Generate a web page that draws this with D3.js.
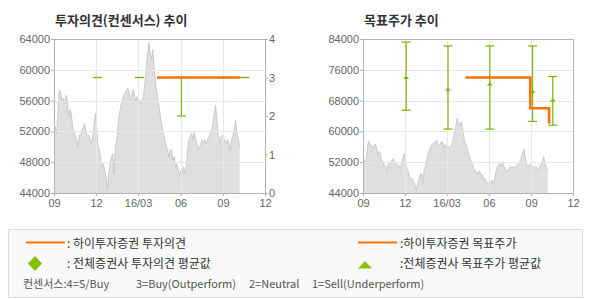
<!DOCTYPE html>
<html>
<head>
<meta charset="utf-8">
<script src="https://cdn.jsdelivr.net/npm/d3@7"></script>
<style>
  body { margin: 0; background: #fff; }
  svg { display: block; }
  .ax text { font-family: "Liberation Sans", Arial, sans-serif; font-size: 11px; fill: #666; }
  .title { font-family: "Noto Sans CJK KR", sans-serif; font-size: 13px; font-weight: bold; fill: #333; }
  .lg { font-family: "Noto Sans CJK KR", sans-serif; font-size: 12px; fill: #333; }
  .lg2 { font-family: "Noto Sans CJK KR", sans-serif; font-size: 11px; fill: #555; white-space: pre; }
</style>
</head>
<body>
<div id="chart"></div>
<script>
// stock price, sampled evenly between the two dates
const priceStart = '2015-09-01';
const priceEnd = '2016-10-07';
const priceValues = [
  52390, 52600, 51700, 54800, 57400, 57000, 56100, 56300, 55650, 56700,
  56100, 53900, 54800, 54300, 52400, 52200, 51300, 50900, 50000, 51500,
  51500, 52200, 52600, 53000, 51950, 51300, 51500, 51100, 50400, 51300,
  53000, 54300, 52600, 50000, 49800, 48250, 47400, 47800, 46950, 46100,
  44550, 46500, 47800, 48700, 49100, 46500, 50000, 50900, 53000, 54300,
  55200, 56100, 56500, 57000, 57200, 57600, 57400, 56100, 56500, 57400,
  57000, 55900, 56500, 55650, 56100, 55650, 56100, 56500, 58300, 60000,
  61750, 63500, 62200, 61300, 62600, 60400, 58300, 57000, 56100, 54800,
  53500, 52600, 51700, 50900, 50000, 49600, 48700, 49600, 49600, 48250,
  48700, 47400, 47800, 46950, 46100, 46950, 46500, 47400, 46500, 47400,
  49600, 50900, 51300, 51700, 50900, 51950, 50900, 50400, 49600, 50000,
  50400, 50900, 50400, 50900, 50400, 50900, 51300, 51700, 52200, 53000,
  54300, 55400, 53500, 51700, 50400, 51300, 51500, 51100, 50900, 50400,
  50900, 50400, 49600, 50900, 51500, 52200, 53500, 51700, 50900, 50000
];

const xTickDates = ['2015-09-01', '2015-12-01', '2016-03-01', '2016-06-01', '2016-09-01', '2016-12-01'];
const xTickLabels = ['09', '12', '16/03', '06', '09', '12'];

const priceTicksLeft = [44000, 48000, 52000, 56000, 60000, 64000];
const opinionTicks = [0, 1, 2, 3, 4];
const priceTicksRight = [44000, 52000, 60000, 68000, 76000, 84000];

// all brokers (min / max / average)
const brokerDates = ['2015-12-04', '2016-03-04', '2016-06-03', '2016-09-04', '2016-10-18'];
const opinionMin = [3, 3, 2, 3, 3];
const opinionMax = [3, 3, 3, 3, 3];
const targetMin = [65500, 60600, 60600, 62600, 61600];
const targetMax = [83200, 82200, 82200, 82200, 74250];
const targetAvg = [73900, 70800, 72200, 70300, 68000];

// 하이투자증권
const hiOpinionDates = ['2016-04-11', '2016-10-08'];
const hiOpinionValues = [3, 3];
const hiTargetDates = ['2016-04-11', '2016-08-30', '2016-10-10'];
const hiTargetValues = [74000, 66000, 62000];

const ORANGE = '#ff7200';
const GREEN = '#78b800';
const parse = d3.timeParse('%Y-%m-%d');

const t0 = parse(priceStart).getTime(), t1 = parse(priceEnd).getTime();
const idxToTime = d3.scaleLinear().domain([0, priceValues.length - 1]).range([t0, t1]);
const price = priceValues.map((v, i) => ({ date: new Date(idxToTime(i)), value: v }));

const svg = d3.select('#chart').append('svg')
  .attr('width', 590)
  .attr('height', 300);

function drawPanel(opt) {
  const x = d3.scaleTime()
    .domain([parse(xTickDates[0]), parse(xTickDates[xTickDates.length - 1])])
    .range([opt.x0, opt.x1]);
  const y = d3.scaleLinear()
    .domain(d3.extent(opt.priceTicks))
    .range([opt.y1, opt.y0]);

  const g = svg.append('g');

  // price area
  g.append('path')
    .datum(price)
    .attr('fill', '#dfdfdf')
    .attr('d', d3.area().x(d => x(d.date)).y0(opt.y1).y1(d => y(d.value)));
  g.append('path')
    .datum(price)
    .attr('fill', 'none')
    .attr('stroke', '#c2c2c2')
    .attr('stroke-width', 0.8)
    .attr('d', d3.line().x(d => x(d.date)).y(d => y(d.value)));

  // grid
  const grid = g.append('g').attr('stroke', '#e8e8e8').attr('stroke-width', 1.2);
  xTickDates.slice(1, -1).forEach(d => {
    const px = Math.round(x(parse(d))) + 0.5;
    grid.append('line').attr('x1', px).attr('x2', px).attr('y1', opt.y0).attr('y2', opt.y1);
  });
  opt.priceTicks.slice(1, -1).forEach(v => {
    const py = Math.round(y(v)) + 0.5;
    grid.append('line').attr('x1', opt.x0).attr('x2', opt.x1).attr('y1', py).attr('y2', py);
  });

  // axes
  const xAxis = g.append('g')
    .attr('class', 'ax')
    .attr('transform', `translate(0,${opt.y1})`)
    .call(d3.axisBottom(x)
      .tickValues(xTickDates.map(parse))
      .tickFormat((d, i) => xTickLabels[i])
      .tickSize(3)
      .tickPadding(3));
  const yAxis = g.append('g')
    .attr('class', 'ax')
    .attr('transform', `translate(${opt.x0},0)`)
    .call(d3.axisLeft(y).tickValues(opt.priceTicks).tickFormat(d3.format('d')).tickSize(3).tickPadding(1));
  const axes = [xAxis, yAxis];

  if (opt.opinion) {
    const yr = d3.scaleLinear().domain([0, 4]).range([opt.y1, opt.y0]);
    axes.push(g.append('g')
      .attr('class', 'ax')
      .attr('transform', `translate(${opt.x1},0)`)
      .call(d3.axisRight(yr).tickValues(opinionTicks).tickFormat(d3.format('d')).tickSize(3).tickPadding(1)));
    opt.yBars = yr;
  } else {
    opt.yBars = y;
  }
  axes.forEach(a => {
    a.select('.domain').remove();
    a.selectAll('line').attr('stroke', '#b0b0b0');
  });

  // frame
  g.append('rect')
    .attr('x', opt.x0 + 0.5).attr('y', opt.y0 + 0.5)
    .attr('width', opt.x1 - opt.x0).attr('height', opt.y1 - opt.y0)
    .attr('fill', 'none')
    .attr('stroke', '#b4b4b4');

  // broker min/max bars
  const yb = opt.yBars;
  const bars = g.append('g').attr('stroke', GREEN).attr('stroke-width', 1.2);
  brokerDates.forEach((d, i) => {
    const px = x(parse(d));
    const top = yb(opt.max[i]), bot = yb(opt.min[i]);
    bars.append('line').attr('x1', px).attr('x2', px).attr('y1', top).attr('y2', bot);
    bars.append('line').attr('x1', px - 4.5).attr('x2', px + 4.5).attr('y1', top).attr('y2', top);
    bars.append('line').attr('x1', px - 4.5).attr('x2', px + 4.5).attr('y1', bot).attr('y2', bot);
    if (opt.avg) {
      const py = yb(opt.avg[i]);
      g.append('path')
        .attr('d', `M${px - 3},${py + 1}L${px},${py - 2}L${px + 3},${py + 1}Z`)
        .attr('fill', GREEN);
    }
  });

  // 하이투자증권 line
  g.append('path')
    .datum(opt.hiDates.map((d, i) => ({ date: parse(d), value: opt.hiValues[i] })))
    .attr('fill', 'none')
    .attr('stroke', ORANGE)
    .attr('stroke-width', 2.5)
    .attr('d', d3.line().curve(d3.curveStepAfter).x(d => x(d.date)).y(d => yb(d.value)));

  svg.append('text')
    .attr('class', 'title')
    .attr('x', opt.x0 + 1)
    .attr('y', 25)
    .text(opt.title);
}

drawPanel({
  title: '투자의견(컨센서스) 추이',
  x0: 54, x1: 265, y0: 39, y1: 193,
  priceTicks: priceTicksLeft,
  opinion: true,
  min: opinionMin, max: opinionMax, avg: null,
  hiDates: hiOpinionDates, hiValues: hiOpinionValues
});

drawPanel({
  title: '목표주가 추이',
  x0: 363, x1: 573, y0: 39, y1: 193,
  priceTicks: priceTicksRight,
  opinion: false,
  min: targetMin, max: targetMax, avg: targetAvg,
  hiDates: hiTargetDates, hiValues: hiTargetValues
});

// legend
const lg = svg.append('g');
lg.append('rect')
  .attr('x', 8.5).attr('y', 229.5)
  .attr('width', 574).attr('height', 68)
  .attr('fill', '#f9f9f9')
  .attr('stroke', '#dcdcdc');

lg.append('line').attr('x1', 26).attr('x2', 65).attr('y1', 242.5).attr('y2', 242.5)
  .attr('stroke', ORANGE).attr('stroke-width', 2);
lg.append('text').attr('class', 'lg').attr('x', 67).attr('y', 248).text(': 하이투자증권 투자의견');

lg.append('path').attr('d', 'M35,256L42,263.5L35,271L28,263.5Z').attr('fill', '#86c20a');
lg.append('text').attr('class', 'lg').attr('x', 67).attr('y', 268).text(': 전체증권사 투자의견 평균값');

lg.append('line').attr('x1', 358).attr('x2', 397).attr('y1', 242.5).attr('y2', 242.5)
  .attr('stroke', ORANGE).attr('stroke-width', 2);
lg.append('text').attr('class', 'lg').attr('x', 400).attr('y', 248).text(':하이투자증권 목표주가');

lg.append('path').attr('d', 'M358,268.5L365,261L372,268.5Z').attr('fill', '#86c20a');
lg.append('text').attr('class', 'lg').attr('x', 400).attr('y', 268).text(':전체증권사 목표주가 평균값');

const consensusLabels = ['컨센서스:4=S/Buy', '3=Buy(Outperform)', '2=Neutral', '1=Sell(Underperform)'];
const consensusX = [23, 136, 249, 312];
consensusLabels.forEach((t, i) => {
  lg.append('text').attr('class', 'lg2').attr('x', consensusX[i]).attr('y', 288).text(t);
});
</script>
</body>
</html>
